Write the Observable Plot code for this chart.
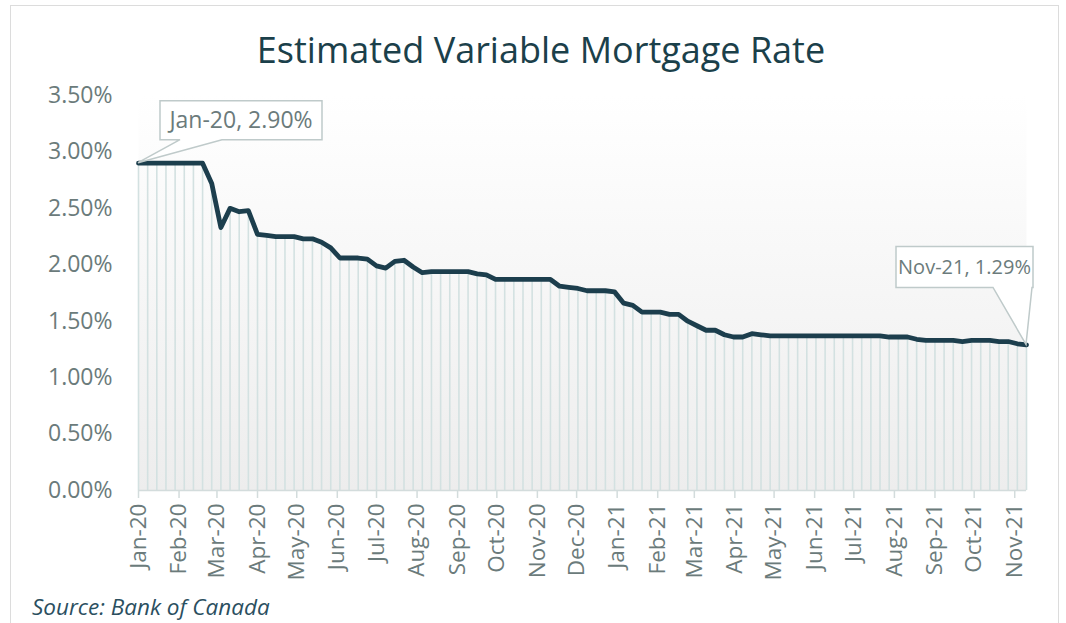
<!DOCTYPE html>
<html><head><meta charset="utf-8">
<script src="https://cdn.jsdelivr.net/npm/d3@7"></script>
<script src="https://cdn.jsdelivr.net/npm/@observablehq/plot@0.6"></script>
<style>
html,body{margin:0;padding:0;background:#fff;}
#wrap{position:relative;width:1066px;height:623px;overflow:hidden;font-family:"Open Sans",sans-serif;}
#frame{position:absolute;left:10px;top:5px;width:1047px;height:700px;border:1px solid #dcdcdc;}
#title{position:absolute;left:0;width:1082px;top:26px;text-align:center;font-size:36px;line-height:48px;color:#1b404a;white-space:nowrap;}
#source{position:absolute;left:32px;top:592px;font-size:22.5px;line-height:30px;font-style:italic;color:#2b4f5f;}
#chart{position:absolute;left:0;top:0;}
</style></head>
<body>
<div id="wrap">
  <div id="frame"></div>
  <div id="chart"></div>
  <div id="title">Estimated Variable Mortgage Rate</div>
  <div id="source">Source: Bank of Canada</div>
</div>
<script>
// Weekly observations starting 2020-01-01
const startDate = "2020-01-01";
const rates = [
  2.90, 2.90, 2.90, 2.90, 2.90, 2.90, 2.90, 2.90, 2.72, 2.33,
  2.50, 2.47, 2.48, 2.27, 2.26, 2.25, 2.25, 2.25, 2.23, 2.23,
  2.20, 2.15, 2.06, 2.06, 2.06, 2.05, 1.99, 1.97, 2.03, 2.04,
  1.98, 1.93, 1.94, 1.94, 1.94, 1.94, 1.94, 1.92, 1.91, 1.87,
  1.87, 1.87, 1.87, 1.87, 1.87, 1.87, 1.81, 1.80, 1.79, 1.77,
  1.77, 1.77, 1.76, 1.66, 1.64, 1.58, 1.58, 1.58, 1.56, 1.56,
  1.50, 1.46, 1.42, 1.42, 1.38, 1.36, 1.36, 1.39, 1.38, 1.37,
  1.37, 1.37, 1.37, 1.37, 1.37, 1.37, 1.37, 1.37, 1.37, 1.37,
  1.37, 1.37, 1.36, 1.36, 1.36, 1.34, 1.33, 1.33, 1.33, 1.33,
  1.32, 1.33, 1.33, 1.33, 1.32, 1.32, 1.30, 1.29
];
const yTicks = [0, 0.5, 1.0, 1.5, 2.0, 2.5, 3.0, 3.5];
const firstLabel = "Jan-20, 2.90%";
const lastLabel = "Nov-21, 1.29%";

const start = new Date(startDate + "T00:00:00Z");
const data = rates.map((r, i) => ({date: d3.utcDay.offset(start, 7 * i), rate: r}));
const first = data[0], last = data[data.length - 1];

const colText = "#6b7b7b";
const colLine = "#1c3e4d";
const colRule = "#d3e1e1";
const colBox = "#bfcaca";

// callout: box geometry relative to the anchor point (pixels)
function callout(datum, label, g) {
  return (index, scales) => {
    const px = scales.x(datum.date), py = scales.y(datum.rate);
    const L = px + g.l, R = px + g.r, T = py + g.t, B = py + g.b;
    const grp = d3.create("svg:g");
    const pts = [[L, T], [R, T], [R, B], [px + g.b2, B], [px, py], [px + g.b1, B], [L, B]];
    grp.append("path")
      .attr("d", "M" + pts.map(p => p.join(",")).join("L") + "Z")
      .attr("fill", "#fff").attr("stroke", colBox).attr("stroke-width", 1.5)
      .attr("stroke-linejoin", "miter");
    grp.append("text")
      .attr("x", (L + R) / 2).attr("y", (T + B) / 2)
      .attr("dy", "0.35em").attr("text-anchor", "middle")
      .attr("font-size", g.fs).attr("font-family", "Open Sans, sans-serif")
      .attr("fill", colText).text(label);
    return grp.node();
  };
}

const chart = Plot.plot({
  width: 1066,
  height: 623,
  marginLeft: 138,
  marginRight: 40,
  marginTop: 95,
  marginBottom: 133,
  style: {fontFamily: "Open Sans, sans-serif", background: "transparent"},
  x: {type: "utc", domain: [first.date, last.date], label: null},
  y: {domain: [0, 3.5], label: null},
  marks: [
    Plot.frame({fill: "url(#bgGrad)", stroke: "none"}),
    Plot.ruleX(data, {x: "date", y1: 0, y2: "rate", stroke: colRule, strokeWidth: 1.6}),
    Plot.ruleY([0], {stroke: "#d3dcdc", strokeWidth: 1.5}),
    Plot.line(data, {x: "date", y: "rate", stroke: colLine, strokeWidth: 4.8, strokeLinejoin: "round", strokeLinecap: "round"}),
    Plot.axisY({ticks: yTicks, tickFormat: d => d.toFixed(2) + "%", tickSize: 0, tickPadding: 26, fontSize: 23, color: colText, label: null}),
    Plot.axisX({ticks: d3.utcMonth.every(1), tickFormat: d3.utcFormat("%b-%y"), tickRotate: -90, tickSize: 8, tickPadding: 5, fontSize: 22.5, color: colText, stroke: "#d3dcdc", strokeWidth: 1.5, label: null}),
    callout(first, firstLabel, {l: 22, r: 184, t: -62, b: -23, b1: 42, b2: 84, fs: 23}),
    callout(last, lastLabel, {l: -130, r: 7, t: -98, b: -57, b1: -33, b2: 6, fs: 20})
  ]
});

const svg = d3.select(chart);
const defs = svg.insert("defs", ":first-child");
const grad = defs.append("linearGradient").attr("id", "bgGrad").attr("x1", 0).attr("y1", 0).attr("x2", 0).attr("y2", 1);
grad.append("stop").attr("offset", "0").attr("stop-color", "#ffffff");
grad.append("stop").attr("offset", "0.11").attr("stop-color", "#fdfdfd");
grad.append("stop").attr("offset", "1").attr("stop-color", "#ededed");

document.getElementById("chart").appendChild(chart);
</script>
</body></html>
